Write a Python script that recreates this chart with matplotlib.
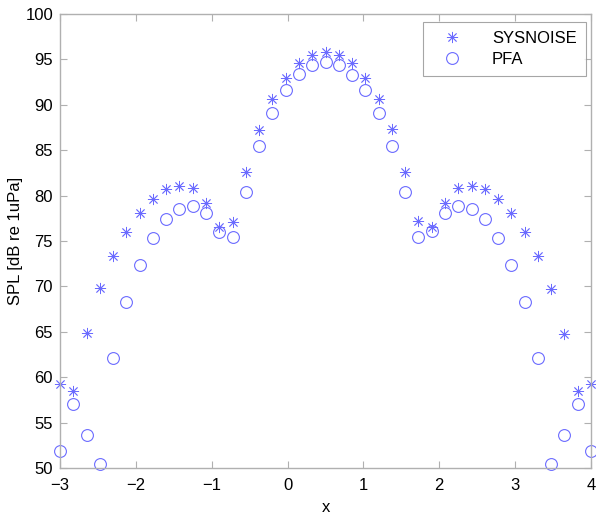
import numpy as np
import matplotlib
matplotlib.use("Agg")
import matplotlib.pyplot as plt

plt.rcParams['font.family'] = ['Liberation Sans', 'DejaVu Sans']

x = np.linspace(-3, 4, 41)
sysnoise = [59.3, 58.5, 64.9, 69.8, 73.3, 76.0, 78.1, 79.6, 80.7, 81.1, 80.8,
            79.2, 76.5, 77.1, 82.6, 87.2, 90.6, 92.9, 94.6, 95.5, 95.8,
            95.5, 94.6, 93.0, 90.6, 87.3, 82.6, 77.2, 76.5, 79.2, 80.8,
            81.1, 80.7, 79.6, 78.1, 76.0, 73.3, 69.7, 64.8, 58.5, 59.3]
pfa = [51.9, 57.1, 53.6, 50.4, 62.1, 68.25, 72.4, 75.3, 77.4, 78.5, 78.9,
       78.1, 76.0, 75.45, 80.45, 85.45, 89.1, 91.6, 93.35, 94.35, 94.7,
       94.35, 93.3, 91.6, 89.05, 85.45, 80.45, 75.45, 76.1, 78.1, 78.9,
       78.5, 77.4, 75.3, 72.4, 68.25, 62.1, 50.4, 53.6, 57.1, 51.85]
xticks = [-3, -2, -1, 0, 1, 2, 3, 4]
yticks = [50, 55, 60, 65, 70, 75, 80, 85, 90, 95, 100]

fig = plt.figure(figsize=(5.96, 5.18), dpi=100)
ax = fig.add_axes([60/596, 1-468/518, (591-60)/596, (468-14)/518])

col = (0.42, 0.42, 1.0)
ax.plot(x, sysnoise, linestyle='none', marker=(8, 2, 0), markersize=8,
        markeredgecolor=col, markeredgewidth=0.6, color=col,
        label='SYSNOISE', clip_on=False)
ax.plot(x, pfa, linestyle='none', marker='o', markersize=8.5,
        markerfacecolor='none', markeredgecolor=col, markeredgewidth=0.8,
        label='PFA', clip_on=False)

ax.set_xlim(-3, 4)
ax.set_ylim(50, 100)
ax.set_xticks(xticks)
ax.set_yticks(yticks)
spine_col = '#b0b0b0'
for s in ax.spines.values():
    s.set_color(spine_col)
    s.set_linewidth(1.0)
ax.tick_params(direction='in', length=5, width=0.8, color=spine_col,
               labelsize=12, labelcolor='black', top=True, right=True)
ax.tick_params(axis='x', pad=7)
ax.tick_params(axis='y', pad=5)
ax.set_xlabel('x', fontsize=12, labelpad=5.5)
ax.set_ylabel('SPL [dB re 1uPa]', fontsize=12)
ax.yaxis.set_label_coords(-0.07, 0.5)

leg = ax.legend(loc='upper right', fontsize=12, frameon=True, fancybox=False,
                bbox_to_anchor=(586/596, 1-22/518), bbox_transform=fig.transFigure,
                borderaxespad=0.0, handletextpad=1.2, borderpad=0.55,
                labelspacing=0.35, handlelength=2.4)
leg.get_frame().set_edgecolor('#909090')
leg.get_frame().set_linewidth(0.8)

fig.savefig('out.png', dpi=100)
